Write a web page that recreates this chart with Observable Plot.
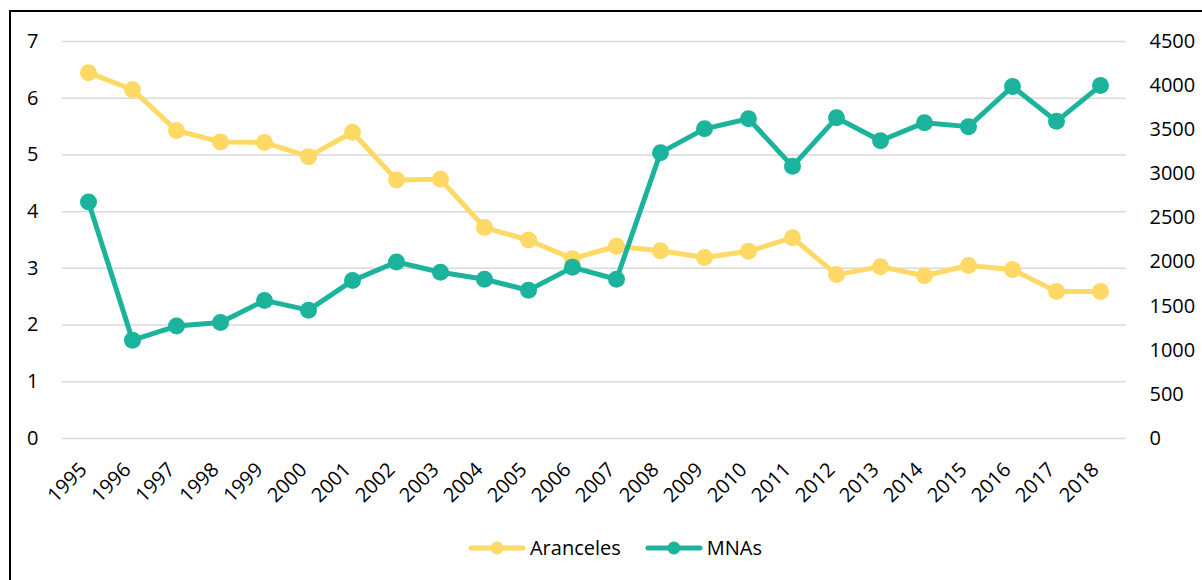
<!DOCTYPE html>
<html>
<head>
<meta charset="utf-8">
<script src="https://cdn.jsdelivr.net/npm/d3@7"></script>
<script src="https://cdn.jsdelivr.net/npm/@observablehq/plot@0.6"></script>
<style>
  html, body { margin: 0; padding: 0; background: #fff; }
  body { width: 1202px; height: 580px; position: relative; overflow: hidden; font-family: "Open Sans", sans-serif; }
  #frame { position: absolute; left: 9px; top: 10px; width: 1300px; height: 700px; border-left: 2px solid #000; border-top: 2px solid #000; }
  #chart { position: absolute; left: 0; top: 0; }
  #legend { position: absolute; top: 534px; left: 0; width: 1202px; display: flex; justify-content: center; gap: 24px; font-size: 20px; color: #000; padding-left: 28px; box-sizing: border-box; }
  .item { display: flex; align-items: center; gap: 4px; }
</style>
</head>
<body>
<div id="frame"></div>
<div id="chart"></div>
<div id="legend"></div>
<script>
const years = ["1995","1996","1997","1998","1999","2000","2001","2002","2003","2004","2005","2006","2007","2008","2009","2010","2011","2012","2013","2014","2015","2016","2017","2018"];
const aranceles = [6.45,6.15,5.43,5.23,5.22,4.97,5.40,4.56,4.57,3.72,3.50,3.17,3.39,3.31,3.19,3.30,3.54,2.89,3.03,2.87,3.05,2.98,2.59,2.59];
const mnas = [2680,1115,1275,1315,1565,1455,1790,2000,1885,1805,1680,1940,1805,3240,3510,3625,3085,3635,3375,3580,3535,3990,3595,4000];
const leftTicks = [0,1,2,3,4,5,6,7];
const rightTicks = [0,500,1000,1500,2000,2500,3000,3500,4000,4500];
const leftMax = 7, rightMax = 4500;
const colA = "#FFD966", colM = "#1CB39D";

const dataA = years.map((y, i) => ({year: y, v: aranceles[i]}));
const dataM = years.map((y, i) => ({year: y, v: mnas[i] * leftMax / rightMax}));

const chart = Plot.plot({
  width: 1202,
  height: 520,
  marginLeft: 62,
  marginRight: 76,
  marginTop: 41,
  marginBottom: 82,
  style: {fontFamily: "Open Sans, sans-serif", fontSize: "20px", color: "#000", background: "transparent"},
  x: {type: "band", domain: years, padding: 0},
  y: {domain: [0, leftMax]},
  marks: [
    Plot.gridY(leftTicks, {stroke: "#d9d9d9", strokeOpacity: 1, strokeWidth: 1.5}),
    Plot.axisY(leftTicks, {anchor: "left", tickSize: 0, tickPadding: 24, fontSize: 20, label: null, tickFormat: d => String(d)}),
    Plot.axisY(rightTicks.map(t => t * leftMax / rightMax), {anchor: "right", tickSize: 0, tickPadding: 23, fontSize: 20, label: null, tickFormat: d => String(Math.round(d * rightMax / leftMax))}),
    Plot.axisX({tickSize: 0, tickPadding: 6, tickRotate: -45, fontSize: 20, label: null, dx: -5, dy: 22}),
    Plot.line(dataA, {x: "year", y: "v", stroke: colA, strokeWidth: 5}),
    Plot.dot(dataA, {x: "year", y: "v", fill: colA, r: 8.5}),
    Plot.line(dataM, {x: "year", y: "v", stroke: colM, strokeWidth: 5}),
    Plot.dot(dataM, {x: "year", y: "v", fill: colM, r: 8.5})
  ]
});
document.getElementById("chart").appendChild(chart);

const legend = document.getElementById("legend");
[["Aranceles", colA], ["MNAs", colM]].forEach(([name, c]) => {
  const item = document.createElement("div");
  item.className = "item";
  item.innerHTML = `<svg width="58" height="14"><line x1="3" y1="7" x2="55" y2="7" stroke="${c}" stroke-width="5" stroke-linecap="round"/><circle cx="29" cy="7" r="6.5" fill="${c}"/></svg><span>${name}</span>`;
  legend.appendChild(item);
});
</script>
</body>
</html>
